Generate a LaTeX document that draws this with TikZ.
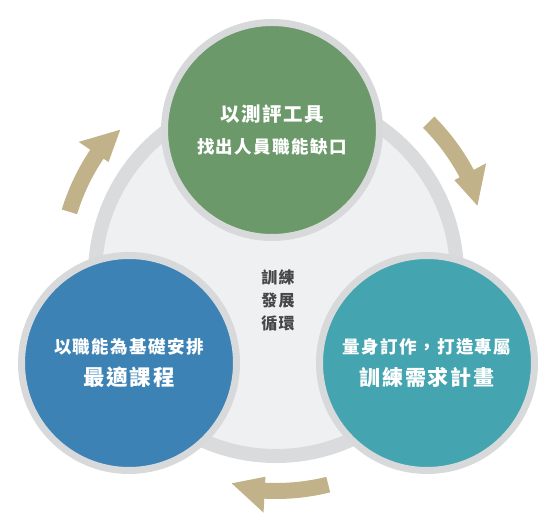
\documentclass[tikz,border=0pt]{standalone}
\usepackage{fontspec}
\newfontfamily\cjk{Noto Sans CJK TC}[LetterSpace=8]
\usetikzlibrary{calc}
\definecolor{bigfill}{HTML}{EFF0F2}
\definecolor{bigrim}{HTML}{DADBDD}
\definecolor{ringgray}{HTML}{D8D9DB}
\definecolor{cgreen}{HTML}{6B996A}
\definecolor{cblue}{HTML}{3C82B5}
\definecolor{cteal}{HTML}{44A5B0}
\definecolor{arrowc}{HTML}{C1B28A}
\definecolor{ctext}{HTML}{474747}
\tikzset{
  bubble/.style={circle, inner sep=0pt, minimum size=215pt, draw=ringgray, line width=7pt, text=white, align=center, font=\cjk\bfseries\fontsize{18}{31.5}\selectfont},
  flowarrow/.style={fill=arrowc},
}
\newcommand{\cyclearrow}[3]{%
  \fill[flowarrow] (#1:208) arc[start angle=#1, end angle=#2, radius=208]
    -- (#2:202) -- (#3:213) -- (#2:238) -- (#2:224)
    arc[start angle=#2, end angle=#1, radius=224] -- cycle;}
\begin{document}
\begin{tikzpicture}[x=1pt,y=1pt]
\useasboundingbox (0,0) rectangle (551,532);
% central ring
\node[circle, inner sep=0pt, minimum size=362pt, fill=bigfill, draw=bigrim, line width=14pt] (hub) at (276,257) {};
\node[align=center, text=ctext, font=\cjk\bfseries\fontsize{16}{23}\selectfont] (hubtext) at (278,232) {訓練\\發展\\循環};
% bubbles
\node[bubble, fill=cgreen] (assess) at (272,402)
  {\fontsize{19.5}{31.5}\selectfont 以測評工具\\\fontsize{17.5}{31.5}\selectfont 找出人員職能缺口};
\node[bubble, fill=cblue] (course) at (129,169)
  {\fontsize{17.5}{32}\selectfont 以職能為基礎安排\\\fontsize{21.5}{32}\selectfont 最適課程};
\node[bubble, fill=cteal] (plan) at (427,169)
  {\fontsize{17.5}{32}\selectfont 量身訂作，打造專屬\\\fontsize{21}{32}\selectfont 訓練需求計畫};
% arrows
\begin{scope}[shift={(hub.center)}]
  \cyclearrow{163}{146}{137}
  \cyclearrow{45}{28}{19}
  \cyclearrow{-76}{-93}{-102}
\end{scope}
\end{tikzpicture}
\end{document}
